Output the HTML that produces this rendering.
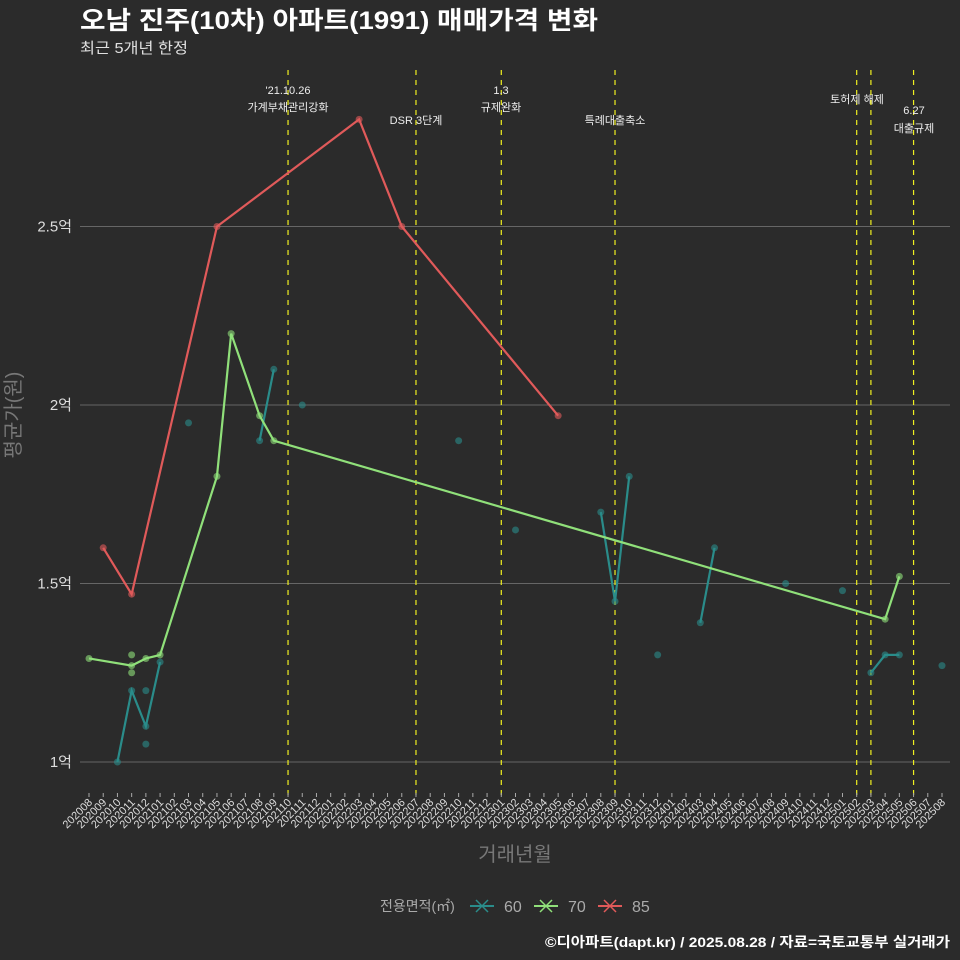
<!DOCTYPE html>
<html><head><meta charset="utf-8"><style>
html,body{margin:0;padding:0;background:#2b2b2b;overflow:hidden;width:960px;height:960px;}
svg{display:block;}
svg text{font-family:"Liberation Sans","Noto Sans CJK KR",sans-serif;}
</style></head><body>
<svg id="chart" width="960" height="960" xmlns="http://www.w3.org/2000/svg">
<rect width="960" height="960" fill="#2b2b2b"/>
<text x="80" y="29" font-size="25" font-weight="bold" fill="#ffffff" textLength="518" lengthAdjust="spacingAndGlyphs">오남 진주(10차) 아파트(1991) 매매가격 변화</text>
<text x="80" y="53" font-size="15" fill="#e0e0e0" textLength="108" lengthAdjust="spacingAndGlyphs">최근 5개년 한정</text>
<g id="grid"></g><g id="events"></g><g id="marks"></g><g id="axes"></g>
<text transform="translate(20,415) rotate(-90)" text-anchor="middle" font-size="20" fill="#777">평균가(원)</text>
<text x="515" y="861" text-anchor="middle" font-size="20" fill="#777">거래년월</text>
<g>
<text x="380" y="911" font-size="14" fill="#aaa">전용면적(㎡)</text>
<g><line x1="470" y1="906" x2="494" y2="906" stroke="#2a8c8a" stroke-width="2"/><path d="M476 900L488 912M488 900L476 912" stroke="#2a8c8a" stroke-width="1.5"/><text x="504" y="912" font-size="16" fill="#aaa">60</text></g>
<g><line x1="534" y1="906" x2="558" y2="906" stroke="#90e07a" stroke-width="2"/><path d="M540 900L552 912M552 900L540 912" stroke="#90e07a" stroke-width="1.5"/><text x="568" y="912" font-size="16" fill="#aaa">70</text></g>
<g><line x1="598" y1="906" x2="622" y2="906" stroke="#e05a5a" stroke-width="2"/><path d="M604 900L616 912M616 900L604 912" stroke="#e05a5a" stroke-width="1.5"/><text x="632" y="912" font-size="16" fill="#aaa">85</text></g>
</g>
<text x="950" y="947" text-anchor="end" font-size="14" font-weight="bold" fill="#ffffff" textLength="405" lengthAdjust="spacingAndGlyphs">©디아파트(dapt.kr) / 2025.08.28 / 자료=국토교통부 실거래가</text>
</svg>
<script>
const months=[];for(let y=2020;y<=2025;y++)for(let m=1;m<=12;m++){const k=y*100+m;if(k>=202008&&k<=202508)months.push(String(k));}
const yTicks=[1,1.5,2,2.5];
const yTickLabels=["1억","1.5억","2억","2.5억"];
const teal60Segments=[
 [["202010",1.0],["202011",1.2],["202012",1.1],["202101",1.28]],
 [["202103",1.95]],
 [["202108",1.9],["202109",2.1]],
 [["202111",2.0]],[["202210",1.9]],[["202302",1.65]],
 [["202308",1.7],["202309",1.45],["202310",1.8]],
 [["202312",1.3]],
 [["202403",1.39],["202404",1.6]],
 [["202409",1.5]],[["202501",1.48]],
 [["202503",1.25],["202504",1.3],["202505",1.3]],
 [["202508",1.27]]];
const teal60Extra=[["202012",1.2],["202012",1.05]];
const green70=[["202008",1.29],["202011",1.27],["202012",1.29],["202101",1.3],["202105",1.8],["202106",2.2],["202108",1.97],["202109",1.9],["202504",1.4],["202505",1.52]];
const green70Extra=[["202011",1.3],["202011",1.25]];
const red85=[["202009",1.6],["202011",1.47],["202105",2.5],["202203",2.8],["202206",2.5],["202305",1.97]];
const eventMonths=["202110","202207","202301","202309","202502","202503","202506"];
const eventLabels=[["'21.10.26","가계부채관리강화"],["DSR 3단계"],["1.3","규제완화"],["특례대출축소"],["토허제 해제"],[""],["6.27","대출규제"]];
const eventLabelY=[[94,111],[124],[94,111],[124],[103],[0],[114,132]];
const eventLabelX=[288,416,501,615,857,871,914];

const NS="http://www.w3.org/2000/svg";
const X=m=>89+(942-89)*months.indexOf(m)/(months.length-1);
const Y=v=>762-(v-1)*357;
function el(t,a,p){const e=document.createElementNS(NS,t);for(const k in a)e.setAttribute(k,a[k]);document.getElementById(p).appendChild(e);return e;}
yTicks.forEach((v,i)=>{
 const l=el('line',{x1:80,x2:950,y1:Y(v),y2:Y(v),stroke:'#666','stroke-width':1},'grid');
 
 
 const t=el('text',{x:72,y:Y(v)+5,'text-anchor':'end','font-size':15,fill:'#ddd'},'axes');t.textContent=yTickLabels[i];
 
 
});
months.forEach(m=>{
 const x=X(m);
 const tk=el('line',{x1:x,x2:x,y1:793,y2:797,stroke:'#aaa'},'axes');
 
 
 const t=el('text',{transform:`translate(${x+4},${803}) rotate(-45)`,'text-anchor':'end','font-size':11,fill:'#ddd'},'axes');t.textContent=m;
 
 
});
eventMonths.forEach((m,i)=>{
 const x=X(m);
 const l=el('line',{x1:x,x2:x,y1:70,y2:797,stroke:'#f0f020','stroke-width':1.2,'stroke-dasharray':'5,5'},'events');
 
 
 eventLabels[i].forEach((s,j)=>{if(!s)return;
  const t=el('text',{x:eventLabelX[i],y:eventLabelY[i][j],'text-anchor':'middle','font-size':11,fill:'#eee'},'events');t.textContent=s;
  
  
 });
});
function series(pts,color,name){
 if(pts.length>1){
  const p=el('polyline',{points:pts.map(d=>X(d[0])+','+Y(d[1])).join(' '),fill:'none',stroke:color,'stroke-width':2.2},'marks');
  
  
 }
 pts.forEach(d=>dot(d,color,name));
}
function dot(d,color,name){
 const c=el('circle',{cx:X(d[0]),cy:Y(d[1]),r:3.5,fill:color,'fill-opacity':0.6},'marks');
 
 
}
teal60Segments.forEach(s=>series(s,'#2a8c8a','area-60'));
teal60Extra.forEach(d=>dot(d,'#2a8c8a','area-60'));
series(green70,'#90e07a','area-70');
green70Extra.forEach(d=>dot(d,'#90e07a','area-70'));
series(red85,'#e05a5a','area-85');
</script>
</body></html>
